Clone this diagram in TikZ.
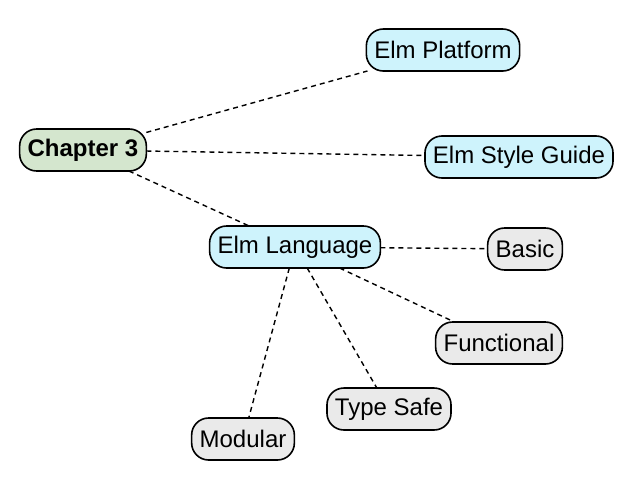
\documentclass[tikz,border=0pt]{standalone}
\usepackage{fontspec}
\setmainfont{Liberation Sans}
\usepackage{tkz-graph}
\usetikzlibrary{arrows}

\definecolor{chapfill}{RGB}{212,230,206}
\definecolor{elmfill}{RGB}{206,243,252}
\definecolor{leaffill}{RGB}{234,234,234}

\begin{document}
\begin{tikzpicture}[x = 1pt, y = -1pt]
\useasboundingbox (0,0) rectangle (636,496);
\tikzstyle{VertexStyle}=[
shape = rectangle,
rounded corners = 17pt,
minimum height = 42pt,
inner xsep = 8pt,
line width = 1.6pt,
font = \fontsize{24}{28}\selectfont,
draw]
\tikzstyle{EdgeStyle}=[
dashed,
dash pattern = on 5pt off 4pt,
line width = 1.4pt]
\Vertex[style = {fill = chapfill}, x = 83, y = 150, L = {\textbf{Chapter 3}}]{ch3}
\Vertex[style = {fill = elmfill}, x = 443, y = 50, L = {Elm Platform}]{platform}
\Vertex[style = {fill = elmfill}, x = 519, y = 157, L = {Elm Style Guide}]{guide}
\Vertex[style = {fill = elmfill}, x = 295, y = 247, L = {Elm Language}]{lang}
\Vertex[style = {fill = leaffill}, x = 525, y = 249, L = {Basic}]{basic}
\Vertex[style = {fill = leaffill}, x = 499, y = 343, L = {Functional}]{functional}
\Vertex[style = {fill = leaffill}, x = 389, y = 409, L = {Type Safe}]{typesafe}
\Vertex[style = {fill = leaffill}, x = 243, y = 439, L = {Modular}]{modular}
\Edge(ch3)(platform)
\Edge(ch3)(guide)
\Edge(ch3)(lang)
\Edge(lang)(basic)
\Edge(lang)(functional)
\Edge(lang)(typesafe)
\Edge(lang)(modular)
\end{tikzpicture}
\end{document}
